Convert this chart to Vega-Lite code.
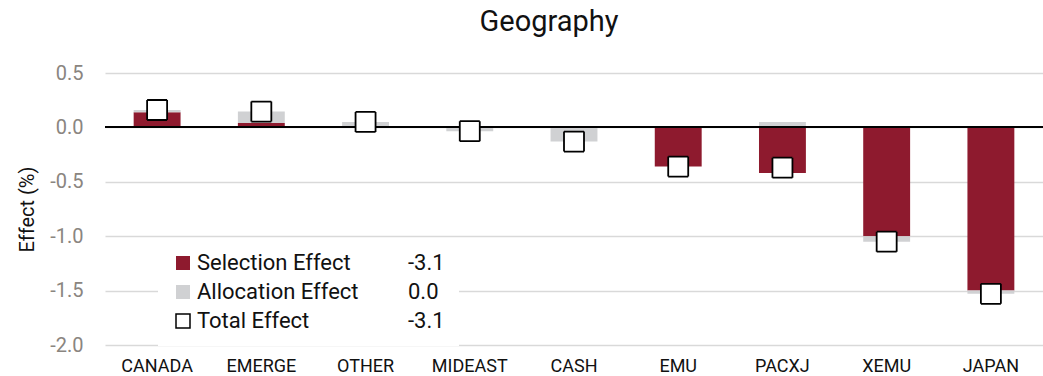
{
  "$schema": "https://vega.github.io/schema/vega-lite/v6.json",
  "autosize": {"type": "none"},
  "width": 938,
  "height": 272,
  "padding": {"left": 105, "top": 73, "right": 0, "bottom": 31},
  "background": "white",
  "config": {
    "font": "Roboto",
    "view": {"stroke": null}
  },
  "title": {
    "text": "Geography",
    "fontSize": 29,
    "fontWeight": "normal",
    "color": "#111111",
    "anchor": "middle",
    "dx": -25,
    "baseline": "alphabetic",
    "offset": 3
  },
  "data": {
    "values": [
      {"region": "CANADA", "series": "Selection Effect", "effect": 0.14},
      {"region": "CANADA", "series": "Allocation Effect", "effect": 0.02},
      {"region": "CANADA", "series": "Total Effect", "effect": 0.16},
      {"region": "EMERGE", "series": "Selection Effect", "effect": 0.04},
      {"region": "EMERGE", "series": "Allocation Effect", "effect": 0.105},
      {"region": "EMERGE", "series": "Total Effect", "effect": 0.145},
      {"region": "OTHER", "series": "Selection Effect", "effect": 0.0},
      {"region": "OTHER", "series": "Allocation Effect", "effect": 0.05},
      {"region": "OTHER", "series": "Total Effect", "effect": 0.05},
      {"region": "MIDEAST", "series": "Selection Effect", "effect": 0.0},
      {"region": "MIDEAST", "series": "Allocation Effect", "effect": -0.035},
      {"region": "MIDEAST", "series": "Total Effect", "effect": -0.035},
      {"region": "CASH", "series": "Selection Effect", "effect": 0.0},
      {"region": "CASH", "series": "Allocation Effect", "effect": -0.13},
      {"region": "CASH", "series": "Total Effect", "effect": -0.13},
      {"region": "EMU", "series": "Selection Effect", "effect": -0.36},
      {"region": "EMU", "series": "Allocation Effect", "effect": 0.0},
      {"region": "EMU", "series": "Total Effect", "effect": -0.36},
      {"region": "PACXJ", "series": "Selection Effect", "effect": -0.42},
      {"region": "PACXJ", "series": "Allocation Effect", "effect": 0.05},
      {"region": "PACXJ", "series": "Total Effect", "effect": -0.37},
      {"region": "XEMU", "series": "Selection Effect", "effect": -1.0},
      {"region": "XEMU", "series": "Allocation Effect", "effect": -0.05},
      {"region": "XEMU", "series": "Total Effect", "effect": -1.05},
      {"region": "JAPAN", "series": "Selection Effect", "effect": -1.5},
      {"region": "JAPAN", "series": "Allocation Effect", "effect": -0.03},
      {"region": "JAPAN", "series": "Total Effect", "effect": -1.53}
    ]
  },
  "encoding": {
    "x": {
      "field": "region",
      "type": "nominal",
      "sort": null,
      "scale": {"paddingInner": 0.55, "paddingOuter": 0.275},
      "axis": {
        "title": null,
        "labelAngle": 0,
        "labelFontSize": 18,
        "labelColor": "#111111",
        "labelPadding": 12,
        "ticks": false,
        "domain": false,
        "grid": false
      }
    }
  },
  "layer": [
    {
      "transform": [{"filter": "datum.series !== 'Total Effect'"}],
      "mark": {"type": "bar"},
      "encoding": {
        "y": {
          "field": "effect",
          "type": "quantitative",
          "stack": "zero",
          "scale": {"domain": [-2, 0.5], "nice": false, "zero": false},
          "axis": {
            "title": "Effect (%)",
            "titleFontSize": 20,
            "titleFontWeight": "normal",
            "titleColor": "#111111",
            "titlePadding": 12,
            "values": [-2, -1.5, -1, -0.5, 0, 0.5],
            "format": ".1f",
            "labelExpr": "replace(datum.label, '\u2212', '-')",
            "labelFontSize": 20,
            "labelColor": "#8a8580",
            "labelPadding": 22,
            "ticks": false,
            "domain": false,
            "grid": true,
            "gridColor": "#d9d9d9",
            "gridWidth": 1.3
          }
        },
        "color": {
          "field": "series",
          "type": "nominal",
          "scale": {
            "domain": ["Selection Effect", "Allocation Effect", "Total Effect"],
            "range": ["#8e1a2e", "#d0d1d3", "#ffffff"]
          },
          "legend": {
            "title": null,
            "orient": "none",
            "legendX": 53,
            "legendY": 165,
            "direction": "vertical",
            "padding": 14,
            "fillColor": "white",
            "symbolType": "square",
            "symbolSize": 196,
            "symbolStrokeWidth": 1.5,
            "labelFontSize": 22,
            "labelColor": "#111111",
            "labelOffset": 3,
            "rowPadding": 7,
            "labelLimit": 300,
            "encode": {
              "symbols": {
                "update": {
                  "stroke": {"signal": "datum.value === 'Total Effect' ? '#000000' : 'transparent'"},
                  "strokeWidth": {"value": 1.5}
                }
              }
            }
          }
        },
        "order": {"field": "series", "sort": "descending"}
      }
    },
    {
      "mark": {"type": "rule", "color": "#000000", "strokeWidth": 1.3},
      "encoding": {"y": {"datum": 0}, "x": null}
    },
    {
      "transform": [{"filter": "datum.series === 'Total Effect'"}],
      "mark": {
        "type": "point",
        "shape": "square",
        "filled": true,
        "size": 400,
        "stroke": "#000000",
        "strokeWidth": 1.8,
        "opacity": 1
      },
      "encoding": {
        "y": {"field": "effect", "type": "quantitative"},
        "color": {"field": "series", "type": "nominal"},
        "strokeDash": {
          "field": "series",
          "type": "nominal",
          "scale": {
            "domain": ["Total Effect", "Allocation Effect", "Selection Effect"],
            "range": [[1, 0], [1, 0], [1, 0]]
          },
          "legend": {
            "title": null,
            "orient": "none",
            "legendX": 267,
            "legendY": 165,
            "direction": "vertical",
            "values": ["Selection Effect", "Allocation Effect", "Total Effect"],
            "padding": 14,
            "fillColor": "white",
            "symbolSize": 0,
            "symbolOpacity": 0,
            "symbolStrokeWidth": 0,
            "labelOffset": 0,
            "labelFontSize": 22,
            "labelColor": "#111111",
            "rowPadding": 7,
            "labelExpr": "datum.value === 'Allocation Effect' ? '\u20070.0' : '-3.1'"
          }
        }
      }
    }
  ]
}
